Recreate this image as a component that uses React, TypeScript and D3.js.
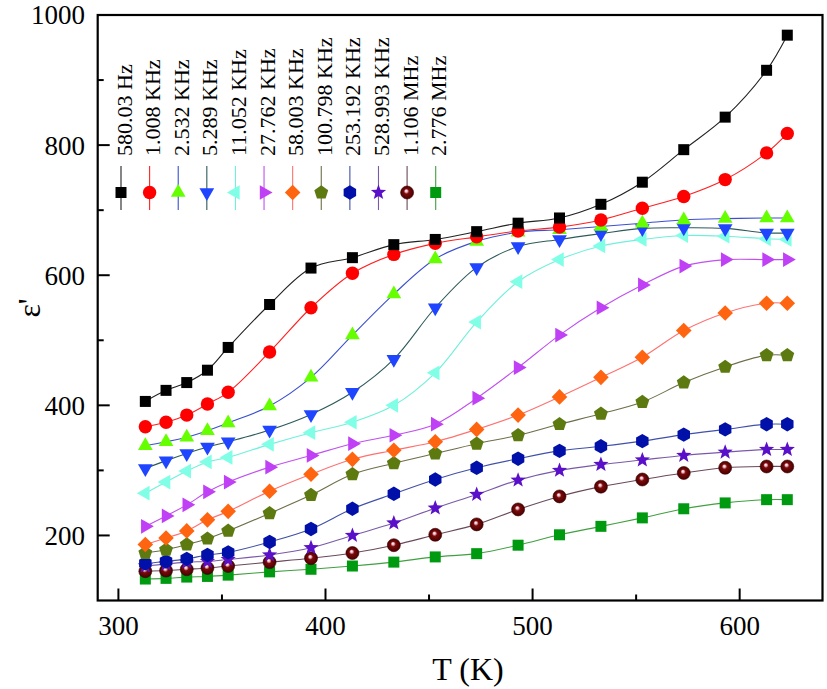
import React from 'react';
import * as d3 from 'd3';

const temps = [313, 323, 333, 343, 353, 373, 393, 413, 433, 453, 473, 493, 513, 533, 553, 573, 593, 613, 623];
const freqLabels = ['580.03 Hz', '1.008 KHz', '2.532 KHz', '5.289 KHz', '11.052 KHz', '27.762 KHz', '58.003 KHz', '100.798 KHz', '253.192 KHz', '528.993 KHz', '1.106 MHz', '2.776 MHz'];

const f580Hz = [406, 423, 435, 454, 489, 555, 611, 627, 647, 655, 667, 680, 688, 709, 743, 793, 843, 915, 969];
const f1k = [367, 374, 385, 402, 420, 482, 550, 603, 632, 649, 659, 668, 674, 685, 703, 721, 747, 788, 818];
const f2k5 = [338, 344, 351, 361, 373, 399, 443, 508, 571, 625, 652, 666, 670, 675, 680, 685, 687, 688, 688];
const f5k3 = [303, 315, 326, 336, 344, 362, 386, 420, 471, 550, 612, 644, 655, 664, 672, 673, 672, 665, 665];
const f11k = [265, 282, 299, 313, 320, 340, 358, 374, 400, 450, 528, 590, 624, 645, 655, 661, 660, 656, 655];
const f27k = [214, 230, 247, 267, 282, 305, 323, 341, 354, 371, 411, 458, 508, 550, 585, 614, 624, 624, 624];
const f58k = [186, 196, 207, 224, 237, 268, 294, 317, 331, 344, 363, 385, 413, 443, 474, 515, 542, 557, 557];
const f100k = [173, 178, 186, 195, 207, 234, 262, 294, 311, 326, 341, 354, 371, 387, 405, 435, 459, 477, 477];
const f253k = [157, 160, 164, 170, 174, 190, 210, 241, 264, 286, 304, 318, 330, 337, 345, 355, 363, 371, 371];
const f529k = [153, 156, 159, 160, 163, 170, 181, 200, 219, 242, 263, 285, 300, 309, 316, 323, 328, 332, 332];
const f1M1 = [145, 146, 148, 150, 153, 159, 165, 173, 185, 201, 217, 240, 260, 275, 286, 296, 304, 306, 306];
const f2M8 = [133, 134, 136, 137, 139, 144, 148, 153, 159, 167, 172, 185, 201, 214, 227, 241, 250, 255, 255];

const seriesValues = [f580Hz, f1k, f2k5, f5k3, f11k, f27k, f58k, f100k, f253k, f529k, f1M1, f2M8];

const xTicksMajor = [300, 400, 500, 600];
const xTicksMinor = [350, 450, 550];
const yTicksMajor = [200, 400, 600, 800, 1000];
const yTicksMinor = [300, 500, 700, 900];

type Sty = { shape: string; fill: string; line: string };
const styles: Sty[] = [
  { shape: 'square', fill: '#000000', line: '#222222' },
  { shape: 'circle', fill: '#ff0000', line: '#ff2020' },
  { shape: 'triUp', fill: '#66ff00', line: '#3a50d0' },
  { shape: 'triDown', fill: '#1f45ff', line: '#2e5a5a' },
  { shape: 'triLeft', fill: '#80ffe6', line: '#70f0dc' },
  { shape: 'triRight', fill: '#c040f5', line: '#c050f0' },
  { shape: 'diamond', fill: '#ff6410', line: '#ff7070' },
  { shape: 'pentagon', fill: '#5c7a10', line: '#6e6e4a' },
  { shape: 'hexagon', fill: '#0010a8', line: '#4050a8' },
  { shape: 'star', fill: '#5a10c8', line: '#7a5aa8' },
  { shape: 'sphere', fill: '#5a0000', line: '#6a4a5a' },
  { shape: 'square', fill: '#009a10', line: '#40a040' },
];

const W = 827;
const H = 689;
const x = d3.scaleLinear().domain([290, 640]).range([97.7, 822.5]);
const y = d3.scaleLinear().domain([100, 1000]).range([600.5, 15]);
const legendX = d3.scaleLinear().domain([0, 11]).range([121, 435.7]);

function poly(n: number, r: number, rot: number): string {
  const pts: [number, number][] = [];
  for (let i = 0; i < n; i++) {
    const a = rot + (i * 2 * Math.PI) / n;
    pts.push([r * Math.cos(a), r * Math.sin(a)]);
  }
  return 'M' + pts.map((p) => p[0].toFixed(2) + ',' + p[1].toFixed(2)).join('L') + 'Z';
}

function star(ro: number, ri: number): string {
  const pts: [number, number][] = [];
  for (let i = 0; i < 10; i++) {
    const a = -Math.PI / 2 + (i * Math.PI) / 5;
    const r = i % 2 === 0 ? ro : ri;
    pts.push([r * Math.cos(a), r * Math.sin(a)]);
  }
  return 'M' + pts.map((p) => p[0].toFixed(2) + ',' + p[1].toFixed(2)).join('L') + 'Z';
}

function shapePath(shape: string): string {
  switch (shape) {
    case 'square':
      return 'M-5.5,-5.5H5.5V5.5H-5.5Z';
    case 'triUp':
      return poly(3, 8.5, -Math.PI / 2);
    case 'triDown':
      return poly(3, 8.5, Math.PI / 2);
    case 'triLeft':
      return poly(3, 8.5, Math.PI);
    case 'triRight':
      return poly(3, 8.5, 0);
    case 'diamond':
      return poly(4, 7.8, 0);
    case 'pentagon':
      return poly(5, 7.3, -Math.PI / 2);
    case 'hexagon':
      return poly(6, 7.2, Math.PI / 2);
    case 'star':
      return star(8, 3.4);
    default:
      return '';
  }
}

function Marker({ s, cx, cy }: { s: Sty; cx: number; cy: number }) {
  if (s.shape === 'circle') {
    return <circle cx={cx} cy={cy} r={6.7} fill={s.fill} />;
  }
  if (s.shape === 'sphere') {
    return (
      <g>
        <circle cx={cx} cy={cy} r={6.5} fill="url(#sphereGrad)" stroke="#3a0000" strokeWidth={0.6} />
      </g>
    );
  }
  return <path d={shapePath(s.shape)} transform={`translate(${cx},${cy})`} fill={s.fill} />;
}

export default function App() {
  const line = d3
    .line<number>()
    .x((_, i) => x(temps[i]))
    .y((d) => y(d))
    .curve(d3.curveCatmullRom.alpha(0.5));

  const font = "'Liberation Serif', 'Times New Roman', serif";

  return (
    <svg
      width={W}
      height={H}
      style={{ position: 'absolute', left: 0, top: 0, background: '#fff' }}
      fontFamily={font}
    >
      <defs>
        <radialGradient id="sphereGrad" cx="0.5" cy="0.5" r="0.5" fx="0.42" fy="0.36">
          <stop offset="0" stopColor="#ffffff" />
          <stop offset="0.18" stopColor="#f0b8c8" />
          <stop offset="0.4" stopColor="#7a0a0a" />
          <stop offset="1" stopColor="#4a0000" />
        </radialGradient>
        <clipPath id="plotClip">
          <rect x={97.7} y={15} width={822.5 - 97.7} height={600.5 - 15} />
        </clipPath>
      </defs>
      <rect x={0} y={0} width={W} height={H} fill="#fff" />

      {/* series lines */}
      <g clipPath="url(#plotClip)">
        {seriesValues.map((vals, si) => (
          <path key={'l' + si} d={line(vals) || ''} fill="none" stroke={styles[si].line} strokeWidth={1.1} />
        ))}
      </g>

      {/* markers: draw from last to first so upper series sit on top */}
      {seriesValues
        .map((vals, si) => ({ vals, si }))
        .reverse()
        .map(({ vals, si }) => (
          <g key={'m' + si}>
            {vals.map((v, i) => (
              <Marker key={i} s={styles[si]} cx={x(temps[i])} cy={y(v)} />
            ))}
          </g>
        ))}

      {/* axes frame */}
      <rect x={97.7} y={15} width={822.5 - 97.7} height={600.5 - 15} fill="none" stroke="#000" strokeWidth={2.2} />

      {/* x ticks */}
      {xTicksMajor.map((t) => (
        <g key={'xt' + t}>
          <line x1={x(t)} x2={x(t)} y1={600.5} y2={588.5} stroke="#000" strokeWidth={2} />
          <text x={x(t)} y={635} fontSize={27} textAnchor="middle">
            {t}
          </text>
        </g>
      ))}
      {xTicksMinor.map((t) => (
        <line key={'xm' + t} x1={x(t)} x2={x(t)} y1={600.5} y2={594.5} stroke="#000" strokeWidth={2} />
      ))}

      {/* y ticks */}
      {yTicksMajor.map((t) => (
        <g key={'yt' + t}>
          <line x1={97.7} x2={109.7} y1={y(t)} y2={y(t)} stroke="#000" strokeWidth={2} />
          <text x={85} y={y(t)} dy="0.35em" fontSize={27} textAnchor="end">
            {t}
          </text>
        </g>
      ))}
      {yTicksMinor.map((t) => (
        <line key={'ym' + t} x1={97.7} x2={103.7} y1={y(t)} y2={y(t)} stroke="#000" strokeWidth={2} />
      ))}

      {/* axis labels */}
      <text x={468} y={680} fontSize={32} textAnchor="middle">
        T (K)
      </text>
      <text transform="translate(40,308) rotate(-90)" fontSize={32} textAnchor="middle">
        ε'
      </text>

      {/* legend */}
      {freqLabels.map((lab, i) => {
        const lx = legendX(i);
        return (
          <g key={'lg' + i}>
            <line x1={lx} x2={lx} y1={166} y2={210} stroke={styles[i].line} strokeWidth={1.1} />
            <Marker s={styles[i]} cx={lx} cy={192.5} />
            <text transform={`translate(${lx + 10.5},156) rotate(-90)`} fontSize={22} textAnchor="start">
              {lab}
            </text>
          </g>
        );
      })}
    </svg>
  );
}
